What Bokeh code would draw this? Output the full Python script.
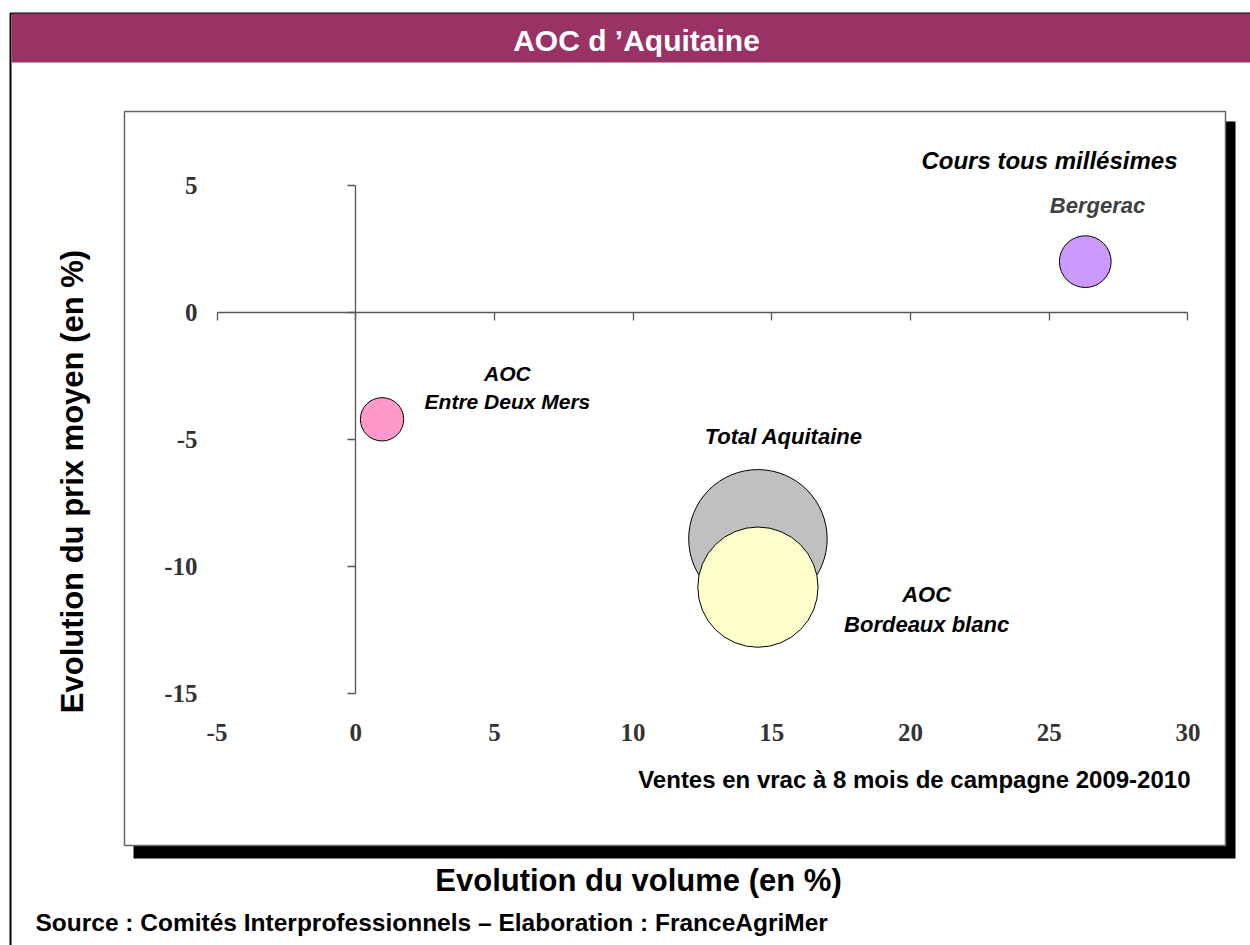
import math
from bokeh.plotting import figure
from bokeh.models import Range1d, LinearAxis, FixedTicker, ColumnDataSource
from bokeh.core.properties import value
from bokeh.embed import file_html
from bokeh.resources import INLINE

# ---------------- data ----------------
names = ["Total Aquitaine", "AOC Bordeaux blanc", "Bergerac", "AOC Entre Deux Mers"]
label_text = ["Total Aquitaine", "AOC\nBordeaux blanc", "Bergerac", "AOC\nEntre Deux Mers"]
vol_change = [14.5, 14.5, 26.3, 0.95]        # Evolution du volume (%)
price_change = [-8.9, -10.8, 2.0, -4.2]      # Evolution du prix moyen (%)
bubble_size = [480, 362, 67, 47]             # relative volume (bubble area)
x_ticks = [-5, 0, 5, 10, 15, 20, 25, 30]
y_ticks = [5, 0, -5, -10, -15]

# ---------------- styles / positions ----------------
bubble_colors = ["#C0C0C0", "#FFFFCC", "#CC99FF", "#FF99CC"]
label_x = [15.43, 20.58, 26.74, 5.47]
label_y = [-4.88, -11.66, 4.21, -2.95]
label_colors = ["black", "black", "#404040", "black"]
label_sizes = ["22px", "22px", "22px", "21px"]

SANS = "Liberation Sans"
SERIF = "Liberation Serif"

W, H, OFF = 1250, 945, 0
X0, SX = 355.2, 27.74     # pixel of x=0, pixels per unit
Y0, SY = 312.0, 25.43     # pixel of y=0, pixels per unit


def dx(X):
    return (X - X0) / SX


def dy(Y):
    return (Y0 - Y) / SY


p = figure(width=W, height=H, output_backend="svg", toolbar_location=None,
           x_range=Range1d(dx(OFF), dx(OFF + W)), y_range=Range1d(dy(OFF + H), dy(OFF)),
           x_axis_location=None, y_axis_location=None, min_border=0,
           outline_line_color=None, background_fill_color="white",
           border_fill_color="white")
p.grid.visible = False

# frame decorations
p.quad(left=[dx(10)], right=[dx(1270)], top=[dy(13)], bottom=[dy(970)],
       fill_color="white", line_color="black", line_width=2)
p.quad(left=[dx(11)], right=[dx(1270)], top=[dy(13)], bottom=[dy(62)],
       fill_color="#993366", line_color=None)
p.quad(left=[dx(133)], right=[dx(1235)], top=[dy(121)], bottom=[dy(858)],
       fill_color="black", line_color=None)
p.quad(left=[dx(124)], right=[dx(1225)], top=[dy(111)], bottom=[dy(845)],
       fill_color="white", line_color="#666666", line_width=1.5)

# axes crossing at origin (line + ticks)
axc = "#555555"
xline = LinearAxis(fixed_location=0, ticker=FixedTicker(ticks=x_ticks), bounds=(-5, 30),
                   axis_line_color=axc, axis_line_width=1.3,
                   major_tick_line_color=axc, major_tick_line_width=1.3,
                   major_tick_out=8, major_tick_in=0, minor_tick_line_color=None,
                   major_label_text_color=None)
yline = LinearAxis(fixed_location=0, ticker=FixedTicker(ticks=y_ticks), bounds=(-15, 5),
                   axis_line_color=axc, axis_line_width=1.3,
                   major_tick_line_color=axc, major_tick_line_width=1.3,
                   major_tick_out=8, major_tick_in=0, minor_tick_line_color=None,
                   major_label_text_color=None)
p.add_layout(xline, "below")
p.add_layout(yline, "left")

# tick-label axes at low position
xlab = LinearAxis(fixed_location=dy(723), ticker=FixedTicker(ticks=x_ticks),
                  axis_line_color=None, major_tick_line_color=None,
                  minor_tick_line_color=None, major_tick_out=0, major_tick_in=0,
                  major_label_standoff=0, major_label_text_font=SERIF,
                  major_label_text_font_size="25px", major_label_text_font_style="bold",
                  major_label_text_color="#333333",
                  major_label_overrides={t: str(t) for t in x_ticks})
ylab = LinearAxis(fixed_location=dx(199), ticker=FixedTicker(ticks=y_ticks),
                  axis_line_color=None, major_tick_line_color=None,
                  minor_tick_line_color=None, major_tick_out=0, major_tick_in=0,
                  major_label_standoff=2, major_label_text_font=SERIF,
                  major_label_text_font_size="25px", major_label_text_font_style="bold",
                  major_label_text_color="#333333",
                  major_label_overrides={t: str(t) for t in y_ticks})
p.add_layout(xlab, "below")
p.add_layout(ylab, "left")

# bubbles
src = ColumnDataSource(dict(
    x=vol_change, y=price_change, name=names,
    size=[2 * 3.16 * math.sqrt(s) for s in bubble_size],
    color=bubble_colors,
))
p.scatter("x", "y", size="size", source=src, marker="circle",
          fill_color="color", line_color="black", line_width=1)

# bubble labels
lsrc = ColumnDataSource(dict(x=label_x, y=label_y, text=label_text,
                             color=label_colors, fs=label_sizes))
p.text("x", "y", text="text", source=lsrc, text_color="color",
       text_font=value(SANS), text_font_size="fs", text_font_style="bold italic",
       text_align="center", text_baseline="middle", text_line_height=1.2)

# notes and titles
p.text(x=[dx(1177)], y=[dy(160)], text=["Cours tous millésimes"],
       text_font=value(SANS), text_font_size="24px", text_font_style="bold italic",
       text_align="right", text_baseline="middle", text_color="black")
p.text(x=[dx(1190)], y=[dy(779)], text=["Ventes en vrac à 8 mois de campagne 2009-2010"],
       text_font=value(SANS), text_font_size="24px", text_font_style="bold",
       text_align="right", text_baseline="middle", text_color="black")
p.text(x=[dx(636)], y=[dy(40)], text=["AOC d \u2019Aquitaine"],
       text_font=value(SANS), text_font_size="30px", text_font_style="bold",
       text_align="center", text_baseline="middle", text_color="white")
p.text(x=[dx(638)], y=[dy(880)], text=["Evolution du volume (en %)"],
       text_font=value(SANS), text_font_size="31px", text_font_style="bold",
       text_align="center", text_baseline="middle", text_color="black")
p.text(x=[dx(72)], y=[dy(481)], text=["Evolution du prix moyen (en %)"], angle=math.pi / 2,
       text_font=value(SANS), text_font_size="31px", text_font_style="bold",
       text_align="center", text_baseline="middle", text_color="black")
p.text(x=[dx(35)], y=[dy(922)],
       text=["Source : Comités Interprofessionnels \u2013 Elaboration : FranceAgriMer"],
       text_font=value(SANS), text_font_size="24.5px", text_font_style="bold",
       text_align="left", text_baseline="middle", text_color="black")

open("out.html", "w").write(file_html(p, INLINE))
